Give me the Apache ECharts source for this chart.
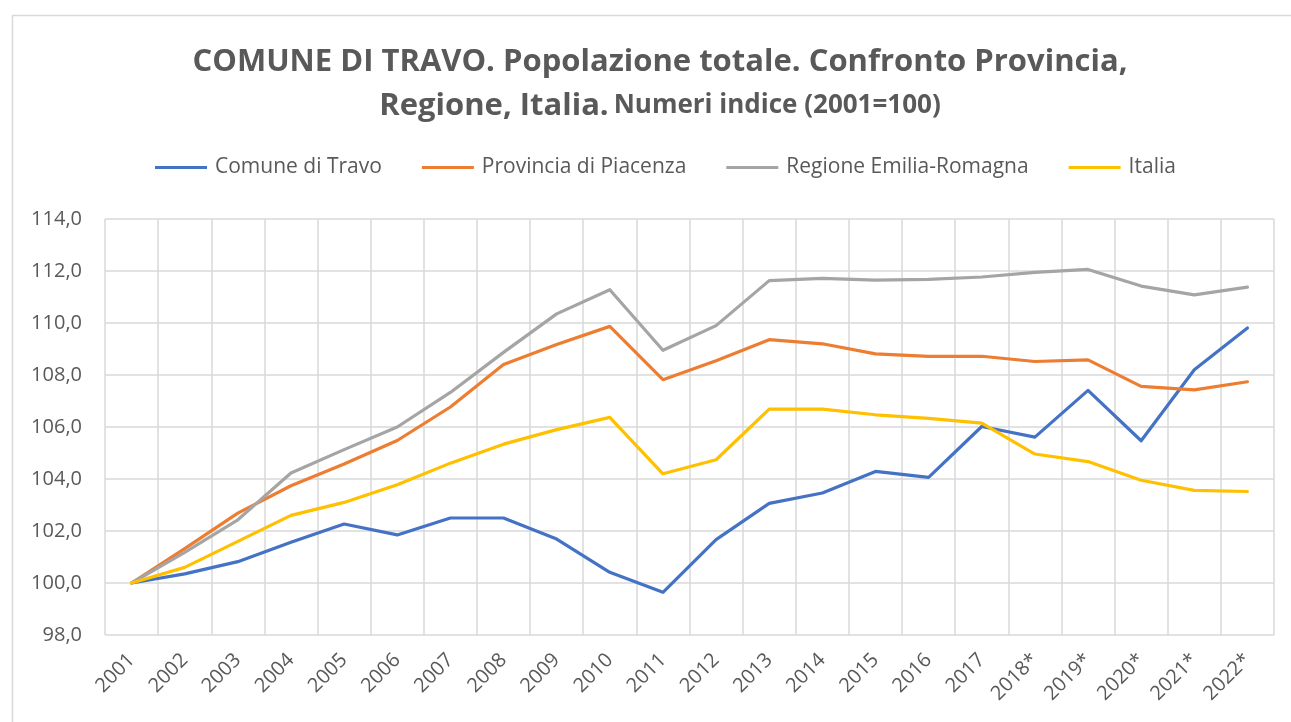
<!DOCTYPE html>
<html><head><meta charset="utf-8">
<script src="https://cdn.jsdelivr.net/npm/echarts@6/dist/echarts.min.js"></script>
<style>html,body{margin:0;padding:0;background:#fff}#c{width:1291px;height:722px}</style>
</head><body><div id="c"></div>
<script>
const categories = ['2001','2002','2003','2004','2005','2006','2007','2008','2009','2010','2011','2012','2013','2014','2015','2016','2017','2018*','2019*','2020*','2021*','2022*'];
const comune = [100.0,100.35,100.82,101.57,102.27,101.85,102.5,102.5,101.69,100.41,99.64,101.67,103.06,103.46,104.29,104.06,106.02,105.61,107.41,105.47,108.2,109.81];
const provincia = [100.0,101.32,102.69,103.74,104.58,105.48,106.77,108.4,109.17,109.87,107.82,108.55,109.36,109.2,108.81,108.72,108.72,108.52,108.58,107.56,107.43,107.74];
const regione = [100.0,101.18,102.43,104.23,105.13,106.0,107.33,108.87,110.35,111.28,108.95,109.9,111.63,111.72,111.65,111.68,111.77,111.95,112.06,111.42,111.08,111.38];
const italia = [100.0,100.6,101.6,102.6,103.1,103.78,104.61,105.34,105.9,106.37,104.2,104.74,106.69,106.69,106.47,106.33,106.15,104.96,104.67,103.95,103.56,103.52];
const seriesNames = ['Comune di Travo','Provincia di Piacenza','Regione Emilia-Romagna','Italia'];
const colors = ['#4472C4','#ED7D31','#A5A5A5','#FFC000'];
const yTicks = {min: 98, max: 114, interval: 2};

const FONT = 'Open Sans';
const chart = echarts.init(document.getElementById('c'), null, {renderer: 'canvas'});
const dataSets = [comune, provincia, regione, italia];
const labelStyle = {fontFamily: FONT, fontSize: 20, color: '#595959'};
chart.setOption({
  animation: false,
  backgroundColor: '#fff',
  color: colors,
  graphic: [{type: 'rect', left: 10, top: 13, shape: {width: 1300, height: 720}, style: {fill: 'none', stroke: '#d9d9d9', lineWidth: 1.5}, silent: true}],
  title: {
    text: '{a|COMUNE DI TRAVO. Popolazione totale. Confronto Provincia,}\n{a|Regione, Italia.} {b|Numeri indice (2001=100)}',
    left: 655, textAlign: 'center', top: 35,
    textStyle: {
      rich: {
        a: {fontFamily: FONT, fontWeight: 'bold', fontSize: 31, color: '#595959', lineHeight: 44},
        b: {fontFamily: FONT, fontWeight: 'bold', fontSize: 26, color: '#595959', lineHeight: 44}
      }
    }
  },
  legend: {
    top: 152, left: 150, itemGap: 40, itemWidth: 52, itemHeight: 3,
    icon: 'rect',
    textStyle: {fontFamily: FONT, fontSize: 21, color: '#595959', padding: [0,0,0,3]},
    data: seriesNames
  },
  grid: {left: 105, right: 17, top: 219, bottom: 87, containLabel: false, outerBoundsMode: 'none'},
  xAxis: {
    type: 'category', data: categories, boundaryGap: true, offset: 14,
    axisLine: {show: false},
    axisTick: {show: false},
    splitLine: {show: true, lineStyle: {color: '#d9d9d9', width: 1.5}},
    axisLabel: Object.assign({rotate: 45, interval: 0, margin: 8}, labelStyle)
  },
  yAxis: {
    type: 'value', min: yTicks.min, max: yTicks.max, interval: yTicks.interval,
    axisLine: {show: false}, axisTick: {show: false},
    splitLine: {lineStyle: {color: '#d9d9d9', width: 1.5}},
    axisLabel: Object.assign({margin: 23, formatter: v => v.toFixed(1).replace('.', ',')}, labelStyle)
  },
  series: dataSets.map((d, i) => ({
    name: seriesNames[i], type: 'line', data: d, symbol: 'none',
    lineStyle: {width: 3.2, color: colors[i], cap: 'round', join: 'round'},
    itemStyle: {color: colors[i]}
  }))
});
</script></body></html>
